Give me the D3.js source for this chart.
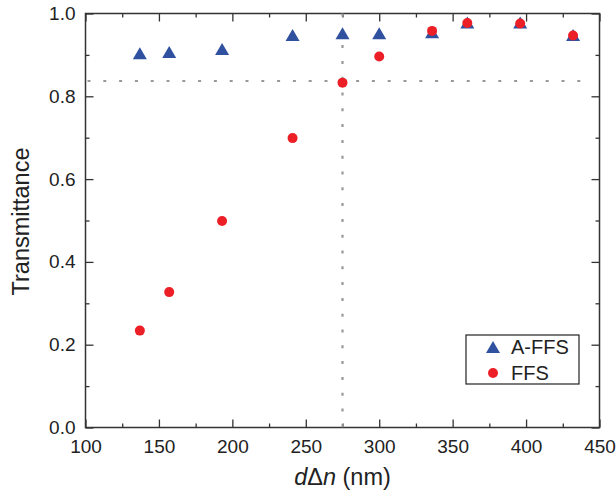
<!DOCTYPE html>
<html>
<head>
<meta charset="utf-8">
<script src="https://cdn.jsdelivr.net/npm/d3@7/dist/d3.min.js"></script>
<style>
  html, body { margin: 0; padding: 0; background: #fff; }
  svg { display: block; font-family: "Liberation Sans", Arial, sans-serif; }
</style>
</head>
<body>
<svg id="chart" width="616" height="498"></svg>
<script>
// Retardation d·Δn (nm) of each sample
const retardation = [137, 157, 193, 241, 275, 300, 336, 360, 396, 432];
// Transmittance of the A-FFS and FFS modes
const transAFFS = [0.904, 0.907, 0.914, 0.948, 0.952, 0.952, 0.955, 0.978, 0.978, 0.948];
const transFFS  = [0.234, 0.327, 0.499, 0.699, 0.833, 0.896, 0.958, 0.977, 0.976, 0.947];
// Guide lines
const guideX = 275;
const guideY = 0.837;
// Axis ticks
const xTicks = [100, 150, 200, 250, 300, 350, 400, 450];
const xMinor = [125, 175, 225, 275, 325, 375, 425];
const yTicks = [0.0, 0.2, 0.4, 0.6, 0.8, 1.0];
const yMinor = [0.1, 0.3, 0.5, 0.7, 0.9];
const seriesNames = ["A-FFS", "FFS"];

const blue = "#3050a0";
const red = "#ec1f27";

const plotL = 85.5, plotR = 599.5, plotT = 13.5, plotB = 427.5;
const svg = d3.select("#chart");

const x = d3.scaleLinear().domain([100, 450]).range([plotL, plotR]);
const y = d3.scaleLinear().domain([0, 1]).range([plotB, plotT]);

const fmt = d3.format(".1f");
const axisColor = "#333";

function styleAxis(g) {
  g.select(".domain").remove();
  g.selectAll(".tick line").attr("stroke", axisColor).attr("stroke-width", 1.3);
  g.selectAll(".tick text").attr("fill", "#222").style("font-size", "19px")
    .style("font-family", "'Liberation Sans', Arial, sans-serif");
}

// Bottom axis (inward ticks, labelled)
svg.append("g").attr("transform", `translate(0,${plotB})`)
  .call(d3.axisBottom(x).tickValues(xTicks).tickSizeInner(-8).tickSizeOuter(0).tickPadding(12))
  .call(styleAxis);
svg.append("g").attr("transform", `translate(0,${plotB})`)
  .call(d3.axisBottom(x).tickValues(xMinor).tickSizeInner(-4).tickSizeOuter(0).tickFormat(""))
  .call(styleAxis);
// Top axis
svg.append("g").attr("transform", `translate(0,${plotT})`)
  .call(d3.axisTop(x).tickValues(xTicks).tickSizeInner(-8).tickSizeOuter(0).tickFormat(""))
  .call(styleAxis);
svg.append("g").attr("transform", `translate(0,${plotT})`)
  .call(d3.axisTop(x).tickValues(xMinor).tickSizeInner(-4).tickSizeOuter(0).tickFormat(""))
  .call(styleAxis);
// Left axis (labelled)
svg.append("g").attr("transform", `translate(${plotL},0)`)
  .call(d3.axisLeft(y).tickValues(yTicks).tickSizeInner(-8).tickSizeOuter(0).tickPadding(10).tickFormat(fmt))
  .call(styleAxis);
svg.append("g").attr("transform", `translate(${plotL},0)`)
  .call(d3.axisLeft(y).tickValues(yMinor).tickSizeInner(-4).tickSizeOuter(0).tickFormat(""))
  .call(styleAxis);
// Right axis
svg.append("g").attr("transform", `translate(${plotR},0)`)
  .call(d3.axisRight(y).tickValues(yTicks).tickSizeInner(-8).tickSizeOuter(0).tickFormat(""))
  .call(styleAxis);
svg.append("g").attr("transform", `translate(${plotR},0)`)
  .call(d3.axisRight(y).tickValues(yMinor).tickSizeInner(-4).tickSizeOuter(0).tickFormat(""))
  .call(styleAxis);

// Frame
svg.append("rect")
  .attr("x", plotL).attr("y", plotT)
  .attr("width", plotR - plotL).attr("height", plotB - plotT)
  .attr("fill", "none").attr("stroke", axisColor).attr("stroke-width", 1.5);

// Dotted guide lines
svg.append("line")
  .attr("x1", plotL).attr("x2", x(445))
  .attr("y1", y(guideY)).attr("y2", y(guideY))
  .attr("stroke", "#999").attr("stroke-width", 2.2)
  .attr("stroke-dasharray", "3,12.8").attr("stroke-dashoffset", -2);
svg.append("line")
  .attr("x1", x(guideX)).attr("x2", x(guideX))
  .attr("y1", plotT).attr("y2", plotB)
  .attr("stroke", "#999").attr("stroke-width", 2.2)
  .attr("stroke-dasharray", "3,12.8");

// Triangle marker, bounding box centred on the point
const triPath = "M0,-6L7,6L-7,6Z";

const pts = retardation.map((r, i) => ({ r, a: transAFFS[i], f: transFFS[i] }));

svg.append("g").selectAll("path")
  .data(pts).join("path")
  .attr("d", triPath)
  .attr("transform", d => `translate(${x(d.r)},${y(d.a)})`)
  .attr("fill", blue);

svg.append("g").selectAll("circle")
  .data(pts).join("circle")
  .attr("cx", d => x(d.r)).attr("cy", d => y(d.f))
  .attr("r", 5)
  .attr("fill", red);

// Axis titles
svg.append("text")
  .attr("transform", `translate(29,${(plotT + plotB) / 2 + 1}) rotate(-90)`)
  .attr("text-anchor", "middle")
  .attr("fill", "#222")
  .style("font-size", "23.5px")
  .text("Transmittance");

const xt = svg.append("text")
  .attr("x", (plotL + plotR) / 2)
  .attr("y", 485)
  .attr("text-anchor", "middle")
  .attr("fill", "#222")
  .style("font-size", "23.5px");
xt.append("tspan").style("font-style", "italic").text("d");
xt.append("tspan").text("Δ");
xt.append("tspan").style("font-style", "italic").text("n");
xt.append("tspan").text(" (nm)");

// Legend
const lg = svg.append("g");
lg.append("rect")
  .attr("x", 466).attr("y", 335).attr("width", 113).attr("height", 49)
  .attr("fill", "#fff").attr("stroke", "#222").attr("stroke-width", 1.2);
lg.append("path").attr("d", triPath).attr("transform", "translate(493,347)").attr("fill", blue);
lg.append("circle").attr("cx", 493).attr("cy", 373).attr("r", 5).attr("fill", red);
lg.selectAll("text.lbl")
  .data(seriesNames).join("text")
  .attr("class", "lbl")
  .attr("x", 511)
  .attr("y", (d, i) => 347 + i * 26)
  .attr("dy", "0.35em")
  .attr("fill", "#222")
  .style("font-size", "20px")
  .text(d => d);
</script>
</body>
</html>
